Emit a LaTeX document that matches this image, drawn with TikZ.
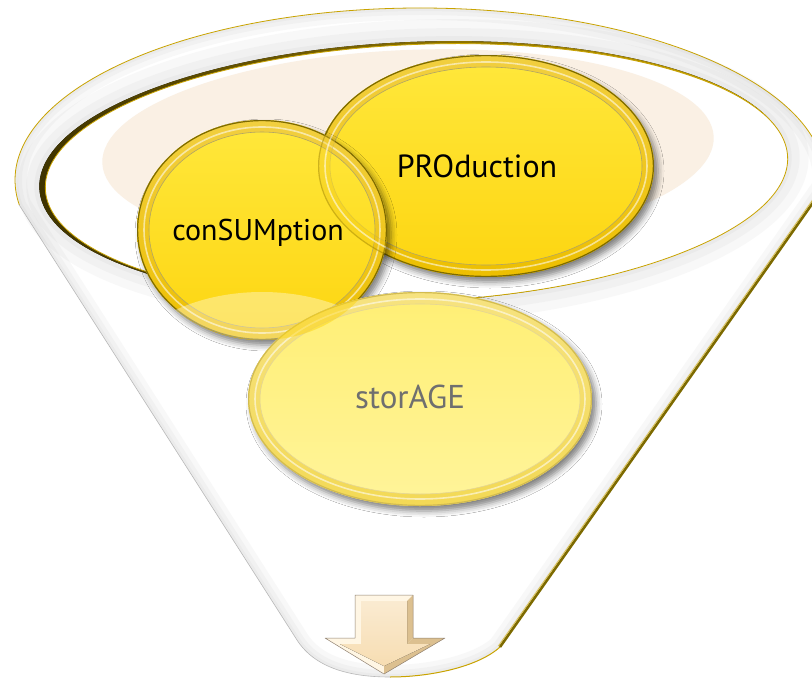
\documentclass[tikz,border=0pt]{standalone}
\usepackage{fontspec}
\setmainfont{PT Sans}
\usetikzlibrary{shadows.blur,calc}

\definecolor{goldline}{HTML}{C9A300}
\definecolor{darkgold}{HTML}{7D6A00}
\definecolor{ringdark}{HTML}{3E3300}
\definecolor{rimgold}{HTML}{EDBF00}
\definecolor{peach}{HTML}{FAF0E4}
\definecolor{discTop}{HTML}{FFE83C}
\definecolor{discBot}{HTML}{FDD510}
\definecolor{paleTop}{HTML}{FFEF74}
\definecolor{paleBot}{HTML}{FFF49A}
\definecolor{paleRim}{HTML}{F3D955}
\definecolor{paleRimDark}{HTML}{D2BB50}
\definecolor{arrowFace}{HTML}{F7DDB2}
\definecolor{arrowEdge}{HTML}{FFF6E4}
\definecolor{arrowDark}{HTML}{DCC090}
\definecolor{arrowLine}{HTML}{8F8070}
\definecolor{labelGray}{HTML}{6F6F6F}

\tikzset{
  label text/.style={inner sep=0pt, anchor=base},
  disc shadow/.style={blur shadow={shadow xshift=4pt, shadow yshift=-5pt,
      shadow blur radius=6pt, shadow opacity=#1}},
  disc shadow/.default=50,
}

% A glossy disc: #1 centre, #2/#3 radii, #4/#5 fill top/bottom, #6 rim, #7 rim edge
\newcommand\glassdisc[7]{%
  \path[disc shadow, top color=#4, bottom color=#5]
    #1 ellipse [x radius=#2, y radius=#3];
  \glassrim{#1}{#2}{#3}{#6}{#7}%
}
% the rim alone
\newcommand\glassrim[5]{%
  \path[even odd rule, top color=#4!75!white, bottom color=#4]
    #1 ellipse [x radius=#2, y radius=#3]
    #1 ellipse [x radius=#2-12, y radius=#3-12];
  \draw[white, opacity=.55, line width=1.6pt]
    #1 ellipse [x radius=#2-7, y radius=#3-7];
  \draw[#5, line width=1.2pt] #1 ellipse [x radius=#2-.6, y radius=#3-.6];
  \draw[#5!60!white, line width=.6pt] #1 ellipse [x radius=#2-12, y radius=#3-12];
}

\begin{document}
\begin{tikzpicture}[x=1pt,y=-1pt]
\useasboundingbox (0,0) rectangle (812,680);
\clip (0,0) rectangle (812,680);
\fill[white] (0,0) rectangle (812,680);

% funnel outline points
\coordinate (fl)  at (19.3,205.1);
\coordinate (fbl) at (297,640);
\coordinate (fb)  at (390,677);
\coordinate (fbr) at (500,647);
\coordinate (fr)  at (824.75,186);

\def\funnelpath{(fl) -- (fbl) .. controls (315,668) and (350,677) .. (fb)
  .. controls (430,677) and (478,667) .. (fbr) -- (fr)
  arc[start angle=2, end angle=-188.4, x radius=405, y radius=172] -- cycle}

\fill[white] \funnelpath;
\begin{scope}
  \clip \funnelpath;
  \draw[gray, opacity=.05, line width=24pt] \funnelpath;
  \draw[gray, opacity=.05, line width=14pt] \funnelpath;
  \draw[gray, opacity=.05, line width=6pt] \funnelpath;
\end{scope}

% funnel edges
\draw[goldline, line width=.8pt] (fr)
  arc[start angle=2, end angle=-188.4, x radius=405, y radius=172];
\draw[gray!55, line width=.6pt] (fl) -- (fbl) .. controls (315,668) and (350,677) .. (fb);
\draw[goldline, line width=1pt] (fb) .. controls (430,677) and (478,667) .. (fbr);
\draw[darkgold, line width=2.6pt] (fbr) -- (fr);
\draw[goldline!70!white, line width=.8pt] ($(fbr)+(-1.6,-1)$) -- ($(fr)+(-1.6,-1)$);

% shading of the rim round the mouth
\begin{scope}[rotate around={2.5:(413,172)}]
  \draw[gray, opacity=.05, line width=24pt] (413,172) ellipse [x radius=384, y radius=140];
  \draw[gray, opacity=.05, line width=14pt] (413,172) ellipse [x radius=380, y radius=136];
  \draw[gray, opacity=.06, line width=6pt] (413,172) ellipse [x radius=376, y radius=132];
\end{scope}

% mouth ring
\fill[left color=ringdark, right color=goldline, rotate around={2.5:(413,172)}]
  (413,172) ellipse [x radius=374, y radius=130];
\fill[white, rotate around={2.5:(416.5,173)}]
  (416.5,173) ellipse [x radius=371.5, y radius=128.5];
\draw[goldline, line width=.8pt, rotate around={2.5:(416.5,173)}]
  (416.5,173) ellipse [x radius=371.5, y radius=128.5];

% pale backdrop behind the discs
\fill[peach, rotate around={2.5:(408,150)}] (408,150) ellipse [x radius=306, y radius=100];

% discs
\glassdisc{(486,166)}{168}{111}{discTop}{discBot}{rimgold}{darkgold}
\glassdisc{(262,230)}{125}{110}{discTop}{discBot}{rimgold}{darkgold}
% the rim of the right disc seen through the left one
\begin{scope}[opacity=.35]
  \clip (262,230) ellipse [x radius=125, y radius=110];
  \glassrim{(486,166)}{168}{111}{rimgold}{darkgold}
\end{scope}
% soft light on the lower lip of the left disc
\begin{scope}
  \clip (262,230) ellipse [x radius=125, y radius=110];
  \fill[white, opacity=.36] (262,390) ellipse [x radius=150, y radius=98];
\end{scope}
\glassdisc{(420,399)}{172}{107}{paleTop}{paleBot}{paleRim}{paleRimDark}
% the upper discs seen through the lower one
\begin{scope}
  \clip (420,399) ellipse [x radius=172, y radius=107];
  \fill[discBot, opacity=.5] (262,230) ellipse [x radius=125, y radius=110];
  \fill[discBot, opacity=.5] (486,166) ellipse [x radius=168, y radius=111];
\end{scope}

% labels
\node[label text, font=\fontsize{32}{38}\selectfont] (prod) at (477,177) {PROduction};
\node[label text, font=\fontsize{30}{36}\selectfont] (cons) at (258,240) {conSUMption};
\node[label text, font=\fontsize{33}{40}\selectfont, text=labelGray] (stor) at (410,408) {storAGE};

% outlet arrow
\fill[arrowEdge] (355,595) -- (413,595) -- (413,638) -- (445,638) -- (384,674)
  -- (325,638) -- (355,638) -- cycle;
\fill[arrowDark] (413,595) -- (413,638) -- (407,644) -- (407,601) -- cycle;
\fill[arrowDark] (445,638) -- (384,674) -- (384,666) -- (430,644) -- (407,644) -- (413,638) -- cycle;
\fill[top color=arrowFace!60!white, bottom color=arrowFace]
  (361,601) -- (407,601) -- (407,644) -- (430,644) -- (384,666) -- (340,644)
  -- (361,644) -- cycle;
\draw[arrowLine, line width=.5pt, line join=round] (355,595) -- (413,595) -- (413,638)
  -- (445,638) -- (384,674) -- (325,638) -- (355,638) -- cycle;
\end{tikzpicture}
\end{document}
